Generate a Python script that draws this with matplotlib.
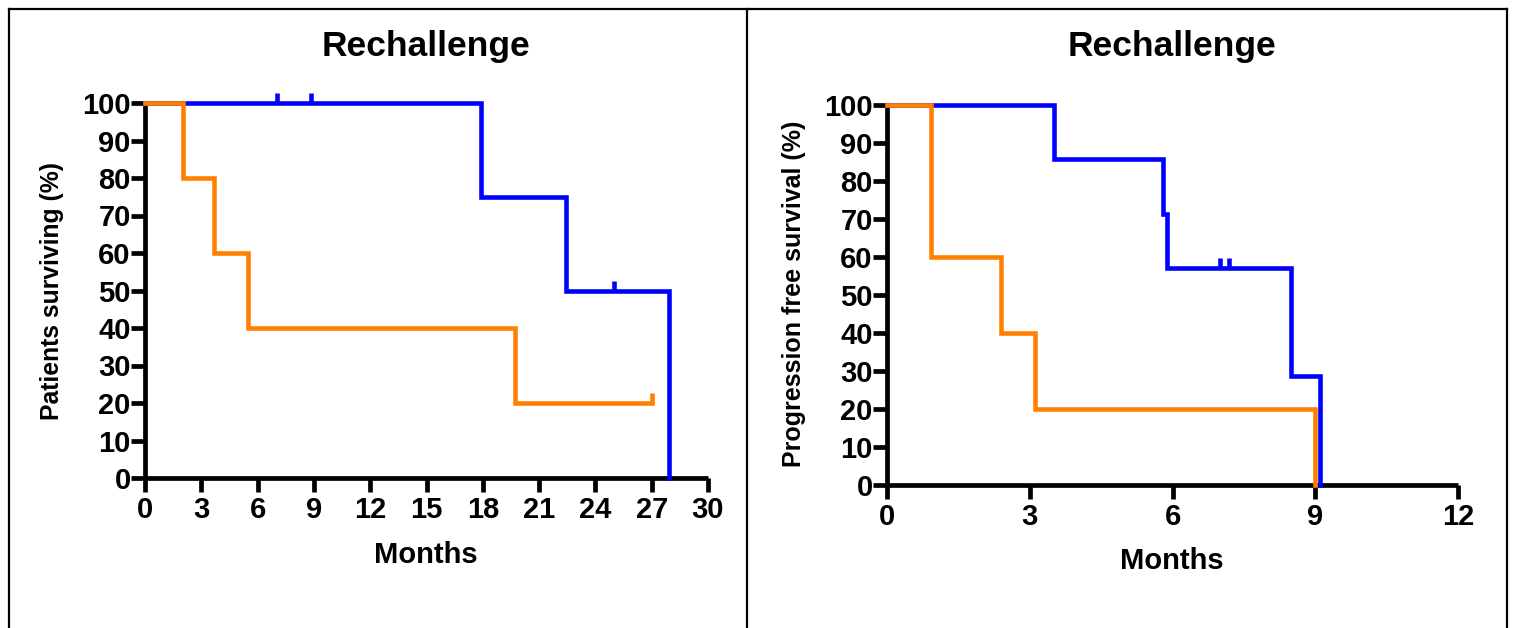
import matplotlib
matplotlib.use("Agg")
import matplotlib.pyplot as plt
from matplotlib.lines import Line2D
from matplotlib.markers import TICKUP

# ---- data ----
title = "Rechallenge"
os_xticks = [0, 3, 6, 9, 12, 15, 18, 21, 24, 27, 30]
pfs_xticks = [0, 3, 6, 9, 12]
yticks = [0, 10, 20, 30, 40, 50, 60, 70, 80, 90, 100]

# Overall survival (left panel)
os_blue_t = [0, 17.9, 22.45, 27.9]
os_blue_s = [100, 75, 50, 0]
os_blue_cens_t = [7.05, 8.85, 25.0]
os_blue_cens_s = [100, 100, 50]

os_orange_t = [0, 2.0, 3.7, 5.5, 19.7, 27.0]
os_orange_s = [100, 80, 60, 40, 20, 20]
os_orange_cens_t = [27.0]
os_orange_cens_s = [20]

# Progression free survival (right panel)
pfs_blue_t = [0, 3.5, 5.8, 5.88, 8.5, 9.1]
pfs_blue_s = [100, 85.7, 71.4, 57.1, 28.6, 0]
pfs_blue_cens_t = [7.0, 7.18]
pfs_blue_cens_s = [57.1, 57.1]

pfs_orange_t = [0, 0.92, 2.4, 3.1, 9.0]
pfs_orange_s = [100, 60, 40, 20, 0]

BLUE = "#0000FF"
ORANGE = "#FF8000"

plt.rcParams['font.family'] = ['Liberation Sans', 'DejaVu Sans']
plt.rcParams['font.weight'] = 'bold'

W, H = 1516, 628
fig = plt.figure(figsize=(W / 100, H / 100), dpi=100)


def px(x0, y0, x1, y1):
    return [x0 / W, 1 - y1 / H, (x1 - x0) / W, (y1 - y0) / H]


def style_axes(ax, xmax, xticks):
    ax.set_xlim(0, xmax)
    ax.set_ylim(0, 100)
    ax.set_xticks(xticks)
    ax.set_yticks(yticks)
    for s in ['top', 'right']:
        ax.spines[s].set_visible(False)
    for s in ['left', 'bottom']:
        ax.spines[s].set_linewidth(3.4)
        ax.spines[s].set_capstyle('butt')
    ax.tick_params(axis='both', direction='out', length=10, width=3.4,
                   labelsize=21)
    ax.tick_params(axis='y', pad=0.3)
    ax.tick_params(axis='x', pad=3)
    for lab in ax.get_xticklabels() + ax.get_yticklabels():
        lab.set_fontweight('bold')


def km(ax, t, s, color):
    ax.step(t, s, where='post', color=color, lw=3.3, clip_on=False,
            solid_joinstyle='miter', zorder=3)


def cens(ax, t, s, color):
    ax.plot(t, s, linestyle='none', marker=TICKUP, markersize=7,
            markeredgewidth=3.3, color=color, clip_on=False, zorder=3)


# Left panel
ax1 = fig.add_axes(px(145, 103, 708, 478))
style_axes(ax1, 30, os_xticks)
km(ax1, os_blue_t, os_blue_s, BLUE)
cens(ax1, os_blue_cens_t, os_blue_cens_s, BLUE)
km(ax1, os_orange_t, os_orange_s, ORANGE)
cens(ax1, os_orange_cens_t, os_orange_cens_s, ORANGE)

# Right panel
ax2 = fig.add_axes(px(887, 105, 1458, 485))
style_axes(ax2, 12, pfs_xticks)
km(ax2, pfs_blue_t, pfs_blue_s, BLUE)
cens(ax2, pfs_blue_cens_t, pfs_blue_cens_s, BLUE)
km(ax2, pfs_orange_t, pfs_orange_s, ORANGE)

# Titles and axis labels
fig.text(426 / W, 1 - 56 / H, title, ha='center', va='baseline',
         fontsize=25.5, fontweight='bold')
fig.text(1172 / W, 1 - 56 / H, title, ha='center', va='baseline',
         fontsize=25.5, fontweight='bold')
fig.text(426 / W, 1 - 555 / H, "Months", ha='center', va='center',
         fontsize=21, fontweight='bold')
fig.text(1172 / W, 1 - 561 / H, "Months", ha='center', va='center',
         fontsize=21, fontweight='bold')
fig.text(52 / W, 1 - 291 / H, "Patients surviving (%)", ha='center',
         va='center', rotation=90, fontsize=17.8, fontweight='bold')
fig.text(794 / W, 1 - 294 / H, "Progression free survival (%)",
         ha='center', va='center', rotation=90, fontsize=18,
         fontweight='bold')

# Border frame and divider
lw = 1.6
fig.add_artist(Line2D([9 / W, 9 / W], [0, 1 - 9 / H], color='black', lw=lw,
                      transform=fig.transFigure))
fig.add_artist(Line2D([1507 / W, 1507 / W], [0, 1 - 9 / H], color='black',
                      lw=lw, transform=fig.transFigure))
fig.add_artist(Line2D([9 / W, 1507 / W], [1 - 9 / H, 1 - 9 / H],
                      color='black', lw=lw, transform=fig.transFigure,
                      solid_capstyle='projecting'))
fig.add_artist(Line2D([747 / W, 747 / W], [0, 1 - 9 / H], color='black',
                      lw=lw, transform=fig.transFigure))

fig.savefig("out.png", dpi=100)
